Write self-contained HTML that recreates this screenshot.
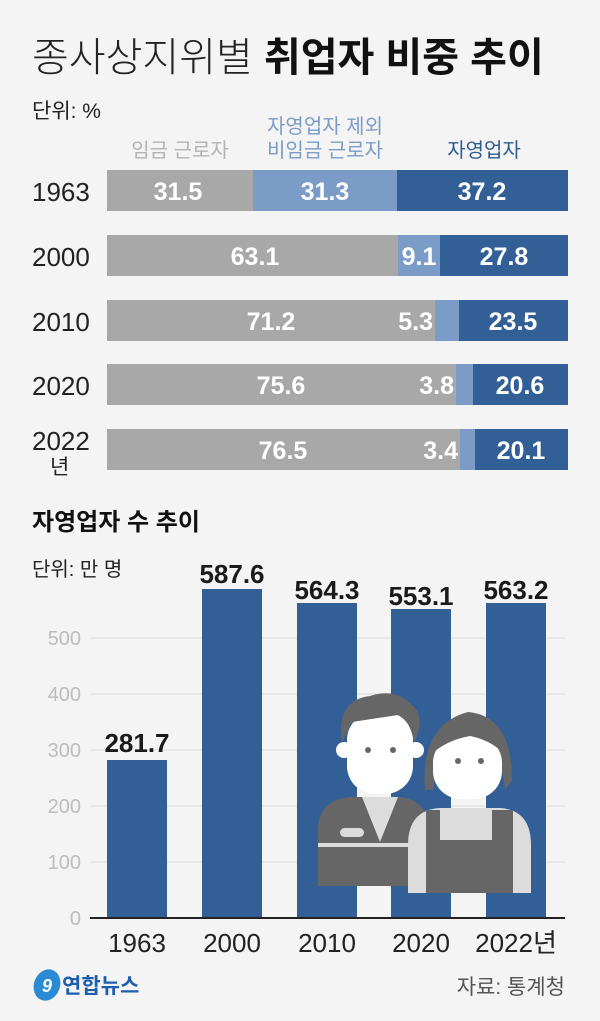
<!DOCTYPE html>
<html><head><meta charset="utf-8"><style>
body{margin:0;background:#f4f4f4;}
svg{display:block}
text{font-family:"Liberation Sans","Noto Sans CJK KR",sans-serif}
</style></head><body>
<svg width="600" height="1021" viewBox="0 0 600 1021">
<rect width="600" height="1021" fill="#f4f4f4"/>
<text x="32" y="71" font-size="40" fill="#222" font-weight="300">종사상지위별 <tspan font-weight="bold" fill="#111">취업자 비중 추이</tspan></text>
<text x="32" y="118" font-size="21" fill="#222">단위: %</text>
<text x="180" y="157" font-size="20" fill="#b4b4b4" text-anchor="middle">임금 근로자</text>
<text x="325" y="133" font-size="20" fill="#7b9cc6" text-anchor="middle">자영업자 제외</text>
<text x="325" y="157" font-size="20" fill="#7b9cc6" text-anchor="middle">비임금 근로자</text>
<text x="484" y="157" font-size="20" fill="#2f5b8e" text-anchor="middle">자영업자</text>
<g font-size="26" fill="#222">
<text x="32" y="201">1963</text><text x="32" y="266">2000</text><text x="32" y="331">2010</text><text x="32" y="395">2020</text><text x="32" y="450">2022</text><text x="50" y="474" font-size="21">년</text>
</g>
<g>
<rect x="107" y="170" width="146" height="41" fill="#a8a8a8"/><rect x="253" y="170" width="144" height="41" fill="#7b9cc6"/><rect x="397" y="170" width="171" height="41" fill="#326096"/>
<rect x="107" y="235" width="291" height="41" fill="#a8a8a8"/><rect x="398" y="235" width="42" height="41" fill="#7b9cc6"/><rect x="440" y="235" width="128" height="41" fill="#326096"/>
<rect x="107" y="300" width="328" height="41" fill="#a8a8a8"/><rect x="435" y="300" width="24" height="41" fill="#7b9cc6"/><rect x="459" y="300" width="109" height="41" fill="#326096"/>
<rect x="107" y="364" width="349" height="41" fill="#a8a8a8"/><rect x="456" y="364" width="17" height="41" fill="#7b9cc6"/><rect x="473" y="364" width="95" height="41" fill="#326096"/>
<rect x="107" y="429" width="353" height="41" fill="#a8a8a8"/><rect x="460" y="429" width="15" height="41" fill="#7b9cc6"/><rect x="475" y="429" width="93" height="41" fill="#326096"/>
</g>
<g font-size="25" font-weight="bold" fill="#fff" text-anchor="middle">
<text x="178" y="200">31.5</text><text x="325" y="200">31.3</text><text x="482" y="200">37.2</text>
<text x="255" y="265">63.1</text><text x="419" y="265">9.1</text><text x="504" y="265">27.8</text>
<text x="271" y="330">71.2</text><text x="433" y="330" text-anchor="end">5.3</text><text x="513" y="330">23.5</text>
<text x="281" y="394">75.6</text><text x="454" y="394" text-anchor="end">3.8</text><text x="520" y="394">20.6</text>
<text x="283" y="459">76.5</text><text x="458" y="459" text-anchor="end">3.4</text><text x="521" y="459">20.1</text>
</g>
<text x="32" y="530" font-size="24" font-weight="bold" fill="#111">자영업자 수 추이</text>
<text x="32" y="576" font-size="20" fill="#222">단위: 만 명</text>
<g stroke="#dcdcdc" stroke-width="1">
<line x1="90" y1="638" x2="565" y2="638"/><line x1="90" y1="694" x2="565" y2="694"/><line x1="90" y1="750" x2="565" y2="750"/><line x1="90" y1="806" x2="565" y2="806"/><line x1="90" y1="862" x2="565" y2="862"/>
</g>
<g font-size="20" fill="#bdbdbd" text-anchor="end">
<text x="81" y="645">500</text><text x="81" y="701">400</text><text x="81" y="757">300</text><text x="81" y="813">200</text><text x="81" y="869">100</text><text x="81" y="925">0</text>
</g>
<g fill="#326096">
<rect x="107" y="760" width="60" height="158"/>
<rect x="202" y="589" width="60" height="329"/>
<rect x="297" y="603" width="60" height="315"/>
<rect x="391" y="609" width="60" height="309"/>
<rect x="486" y="603" width="60" height="315"/>
</g>
<g font-size="26" font-weight="bold" fill="#1a1a1a" text-anchor="middle">
<text x="137" y="752">281.7</text><text x="232" y="583">587.6</text><text x="327" y="599">564.3</text><text x="421" y="605">553.1</text><text x="516" y="599">563.2</text>
</g>
<g>
<path d="M318 886 V830 Q318 800 350 797 H400 Q428 800 428 830 V886 Z" fill="#666"/>
<path d="M362 797 L380 842 L398 797 Z" fill="#dcdcdc"/>
<rect x="318" y="843" width="110" height="4" fill="#dcdcdc"/>
<rect x="340" y="828" width="24" height="9" rx="4.5" fill="#dcdcdc"/>
<circle cx="344" cy="750" r="8" fill="#fff"/><circle cx="416" cy="750" r="8" fill="#fff"/>
<rect x="347" y="712" width="66" height="82" rx="28" fill="#fff"/>
<path d="M342 742 Q336 700 370 696 Q400 686 418 712 Q422 730 414 742 Q410 720 398 715 L352 722 Z" fill="#666"/>
<circle cx="368" cy="750" r="3" fill="#666"/><circle cx="393" cy="750" r="3" fill="#666"/>
<path d="M408 893 V845 Q408 810 440 808 H500 Q531 810 531 845 V893 Z" fill="#dcdcdc"/>
<path d="M426 893 V810 H440 V840 H492 V810 H513 V893 Z" fill="#666"/>
<path d="M425 790 Q420 725 468 712 Q512 716 512 780 L505 790 Q500 740 470 735 Q440 740 433 790 Z" fill="#666"/>
<rect x="433" y="735" width="69" height="64" rx="28" fill="#fff"/>
<path d="M434 752 Q440 728 468 726 Q496 728 502 752 Q490 740 470 736 Q448 740 434 752Z" fill="#666"/>
<circle cx="458" cy="761" r="3" fill="#666"/><circle cx="481" cy="761" r="3" fill="#666"/>
</g>
<line x1="90" y1="918" x2="565" y2="918" stroke="#222" stroke-width="2"/>
<g font-size="26" fill="#222" text-anchor="middle">
<text x="137" y="952">1963</text><text x="232" y="952">2000</text><text x="327" y="952">2010</text><text x="421" y="952">2020</text><text x="516" y="952">2022년</text>
</g>
<ellipse cx="47" cy="985" rx="13" ry="16" fill="#2b8ad4" transform="rotate(20 47 985)"/>
<text x="42" y="992" font-size="18" font-style="italic" font-weight="bold" fill="#fff">9</text>
<text x="62" y="993" font-size="21" font-weight="bold" fill="#1d5fae">연합뉴스</text>
<text x="565" y="994" font-size="21" fill="#555" text-anchor="end">자료: 통계청</text>
</svg>
</body></html>
